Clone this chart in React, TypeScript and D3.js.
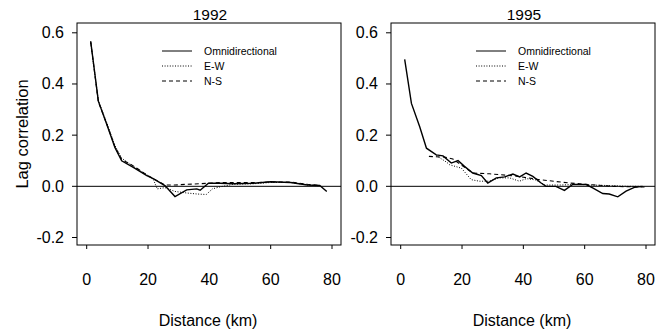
import React from "react";
import * as d3 from "d3";

type Pt = [number, number];

const omni92: Pt[] = [
  [1.3, 0.567], [3.8, 0.333], [6.5, 0.244], [9.2, 0.152], [11.4, 0.1], [15.2, 0.074],
  [19.6, 0.042], [21.7, 0.03], [25.5, 0.003], [28.8, -0.04], [32.6, -0.014], [35.9, -0.01],
  [37, -0.015], [39.7, 0.012], [43.5, 0.012], [47.8, 0.01], [54.3, 0.012], [60, 0.018],
  [66.5, 0.015], [72, 0.005], [76, 0.003], [78.3, -0.02],
];
const ew92: Pt[] = [
  [1.3, 0.56], [3.8, 0.335], [6.5, 0.25], [9.2, 0.16], [11.4, 0.11], [15.2, 0.078],
  [19.6, 0.045], [21.7, 0.028], [23, -0.01], [25.5, -0.005], [28.8, -0.02], [32.6, -0.026],
  [36, -0.03], [39, -0.032], [41, -0.01], [43.5, -0.002], [47.8, 0.008], [54.3, 0.01],
  [60, 0.015], [66.5, 0.015], [72, 0.005], [76, 0.002],
];
const ns92: Pt[] = [
  [1.3, 0.565], [3.8, 0.33], [6.5, 0.245], [9.2, 0.155], [11.4, 0.105], [15.2, 0.08],
  [19.6, 0.045], [22.5, 0.025], [25.5, 0.005], [28.8, 0.005], [32.6, 0.008], [37, 0.01],
  [43.5, 0.015], [50, 0.015], [56, 0.015], [60, 0.017], [66.5, 0.017], [72, 0.008], [76, 0.003],
];

const omni95: Pt[] = [
  [1.3, 0.496], [3.5, 0.324], [6.2, 0.233], [8.4, 0.149], [11.6, 0.123], [13.8, 0.119],
  [16.5, 0.091], [18.7, 0.101], [20.8, 0.078], [23.5, 0.052], [26.3, 0.042], [28.4, 0.013],
  [31.2, 0.033], [33.9, 0.037], [36.6, 0.048], [38.8, 0.037], [40.9, 0.052], [43.1, 0.039],
  [45.8, 0.013], [47.4, 0.0], [50.6, 0.0], [53.4, -0.016], [56.1, 0.007], [60.5, 0.007],
  [62.6, -0.006], [65.9, -0.028], [68, -0.03], [70.8, -0.041], [73.5, -0.019], [76.2, -0.004],
  [78.9, 0.0],
];
const ew95: Pt[] = [
  [11.6, 0.12], [14.9, 0.095], [16, 0.084], [19.8, 0.071], [23, 0.026], [25.7, 0.02],
  [28.7, 0.02], [32.2, 0.033], [35.5, 0.033], [38.7, 0.02], [41, 0.03], [44, 0.025],
  [47, 0.005], [52, 0.005], [58, 0.008], [62, 0.005], [68, 0.003], [74, 0.0], [79, 0.0],
];
const ns95: Pt[] = [
  [9.2, 0.117], [14.3, 0.114], [17, 0.107], [23.5, 0.052], [29, 0.049], [37.7, 0.04],
  [45.3, 0.026], [55, 0.013], [69, 0.0], [80, -0.003],
];

const xTicks = [0, 20, 40, 60, 80];
const yTicks = [0.6, 0.4, 0.2, 0.0, -0.2];
const legendLabels = ["Omnidirectional", "E-W", "N-S"];
const dashes = ["none", "1,1.6", "4,3"];
const widths = [1.4, 1.0, 1.1];

const FONT = "'Liberation Sans', Arial, Helvetica, sans-serif";

function Panel({ dx, title, series, showYTitle }: { dx: number; title: string; series: Pt[][]; showYTitle: boolean }) {
  const left = 77 + dx, right = 341 + dx, top = 23, bottom = 245;
  const x = d3.scaleLinear().domain([0, 80]).range([86.7 + dx, 332 + dx]);
  const y = d3.scaleLinear().domain([-0.2, 0.6]).range([237.5, 32.8]);
  const line = d3.line<Pt>().x((d) => x(d[0])).y((d) => y(d[1])).curve(d3.curveLinear);
  const legX = 162 + dx;
  return (
    <g>
      <text x={(left + right) / 2 + 1} y={20} textAnchor="middle" fontSize={15.5} fontFamily={FONT}>{title}</text>
      <rect x={left} y={top} width={right - left} height={bottom - top} fill="none" stroke="#000" strokeWidth={1} />
      {yTicks.map((t) => (
        <g key={t}>
          <line x1={left - 5} x2={left} y1={y(t)} y2={y(t)} stroke="#000" />
          <text x={left - 13} y={y(t) + 5.5} textAnchor="end" fontSize={16} fontFamily={FONT}>{t.toFixed(1)}</text>
        </g>
      ))}
      {xTicks.map((t) => (
        <g key={t}>
          <line x1={x(t)} x2={x(t)} y1={bottom} y2={bottom + 4} stroke="#000" />
          <text x={x(t)} y={285} textAnchor="middle" fontSize={16} fontFamily={FONT}>{t}</text>
        </g>
      ))}
      <line x1={left} x2={right} y1={y(0)} y2={y(0)} stroke="#000" strokeWidth={1} />
      {series.map((s, i) => (
        <path key={i} d={line(s) || ""} fill="none" stroke="#000" strokeWidth={widths[i]}
          strokeDasharray={dashes[i]} />
      ))}
      {legendLabels.map((l, i) => (
        <g key={l}>
          <line x1={legX} x2={legX + 30} y1={51 + i * 15} y2={51 + i * 15} stroke="#000"
            strokeWidth={1} strokeDasharray={dashes[i]} />
          <text x={legX + 42} y={54.5 + i * 15} fontSize={10.5} fontFamily={FONT}>{l}</text>
        </g>
      ))}
      <text x={(left + right) / 2 - 1} y={326} textAnchor="middle" fontSize={16} fontFamily={FONT}>Distance (km)</text>
      {showYTitle && (
        <text transform={`translate(28,${(top + bottom) / 2}) rotate(-90)`} textAnchor="middle" fontSize={16.5} fontFamily={FONT}>Lag correlation</text>
      )}
    </g>
  );
}

export default function App() {
  return (
    <svg width={666} height={332} style={{ position: "absolute", left: 0, top: 0, background: "#fff" }}>
      <Panel dx={0} title="1992" series={[omni92, ew92, ns92]} showYTitle={true} />
      <Panel dx={314} title="1995" series={[omni95, ew95, ns95]} showYTitle={false} />
    </svg>
  );
}
